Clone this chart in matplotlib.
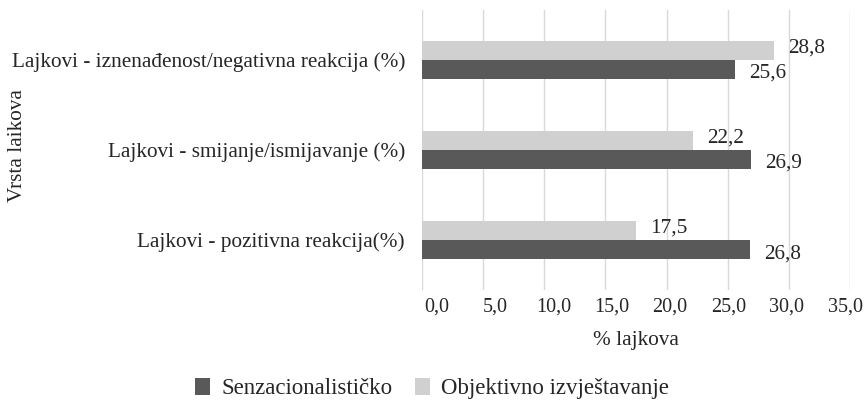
import matplotlib.pyplot as plt
import matplotlib.transforms as mtransforms
import numpy as np

plt.rcParams['font.family'] = ['Liberation Serif', 'DejaVu Serif']

categories = ['Lajkovi - pozitivna reakcija(%)',
              'Lajkovi - smijanje/ismijavanje (%)',
              'Lajkovi - iznenađenost/negativna reakcija (%)']
senzacionalisticko = [26.8, 26.9, 25.6]
objektivno = [17.5, 22.2, 28.8]
series_names = ['Senzacionalističko', 'Objektivno izvještavanje']
xticks = [0, 5, 10, 15, 20, 25, 30, 35]

dark = '#595959'
light = '#d0d0d0'
text_col = '#262626'
fs = 15.3

fig = plt.figure(figsize=(8.64, 4.05), dpi=100)
ax = fig.add_axes([0.488, 0.285, 0.496, 0.69])

y = np.arange(len(categories))
h = 0.21
b1 = ax.barh(y - h / 2, senzacionalisticko, h, color=dark, label=series_names[0], zorder=3)
b2 = ax.barh(y + h / 2, objektivno, h, color=light, label=series_names[1], zorder=3)

for bar, v in zip(b1, senzacionalisticko):
    ax.annotate(f'{v:.1f}'.replace('.', ','), (bar.get_width(), bar.get_y() + bar.get_height() / 2),
                xytext=(10, -3), textcoords='offset points', ha='left', va='center',
                fontsize=fs, color=text_col)
for bar, v in zip(b2, objektivno):
    ax.annotate(f'{v:.1f}'.replace('.', ','), (bar.get_width(), bar.get_y() + bar.get_height() / 2),
                xytext=(10, 1.5), textcoords='offset points', ha='left', va='center',
                fontsize=fs, color=text_col)

ax.set_xlim(0, 35)
ax.set_ylim(-0.55, 2.55)
ax.set_xticks(xticks)
ax.set_xticklabels([f'{t:.1f}'.replace('.', ',') for t in xticks], fontsize=14.5, color=text_col)
ax.set_yticks(y)
ax.set_yticklabels(categories, fontsize=fs, color=text_col)
ax.tick_params(length=0, pad=6)
ax.tick_params(axis='y', pad=12)
ax.xaxis.grid(True, color='#d9d9d9', linewidth=1, zorder=0)
for s in ax.spines.values():
    s.set_visible(False)

# tick labels sit a little right of their gridlines, like in the source chart
for t, lab in zip(xticks, ax.get_xticklabels()):
    dx = (15 - 20 * t / 35) / 100
    lab.set_transform(lab.get_transform() + mtransforms.ScaledTranslation(dx, 0, fig.dpi_scale_trans))

ax.set_xlabel('% lajkova', fontsize=fs, color=text_col, labelpad=10)
fig.text(0.02, 0.64, 'Vrsta laikova', rotation=90, fontsize=fs, color=text_col,
         ha='center', va='center')

fig.legend(handles=[b1, b2], loc='center', bbox_to_anchor=(0.5, 0.04), ncol=2,
           frameon=False, fontsize=16.5, handlelength=0.65, handleheight=0.75,
           columnspacing=1.0, handletextpad=0.5, labelcolor=text_col)

fig.savefig('out.png', dpi=100)
